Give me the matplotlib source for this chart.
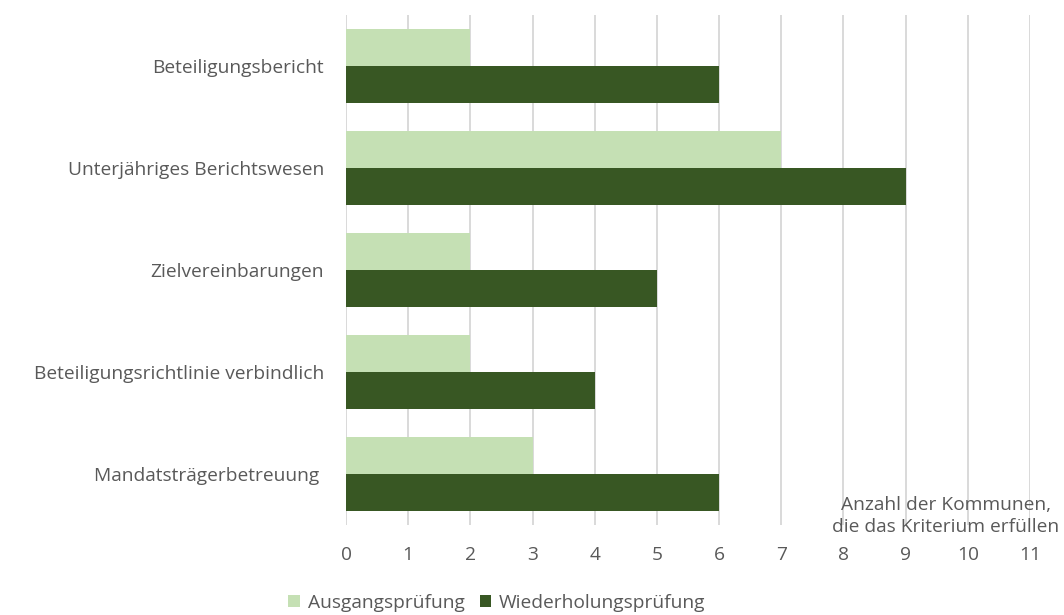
import matplotlib.pyplot as plt
import numpy as np

plt.rcParams['font.family'] = ['Open Sans', 'DejaVu Sans']

# Kriterien und Anzahl der Kommunen je Prüfung
kriterien = [
    "Beteiligungsbericht",
    "Unterjähriges Berichtswesen",
    "Zielvereinbarungen",
    "Beteiligungsrichtlinie verbindlich",
    "Mandatsträgerbetreuung ",
]
ausgang = [2, 7, 2, 2, 3]
wiederholung = [6, 9, 5, 4, 6]
x_ticks = list(range(0, 12))

hell = "#c5e0b4"
dunkel = "#385723"
grau = "#595959"
fs = 13.8

fig = plt.figure(figsize=(10.64, 6.15), dpi=100)
ax = fig.add_axes([346 / 1064, 1 - 525 / 615, (1030 - 346) / 1064, 510 / 615])

y = np.arange(len(kriterien))
h = 0.363
ax.barh(y - h / 2, ausgang, height=h, color=hell, label="Ausgangsprüfung", zorder=3)
ax.barh(y + h / 2, wiederholung, height=h, color=dunkel, label="Wiederholungsprüfung", zorder=3)

ax.set_xlim(0, 11)
ax.set_ylim(len(kriterien) - 0.5, -0.5)
ax.set_xticks(x_ticks)
ax.set_yticks(y)
ax.set_yticklabels(kriterien)
ax.grid(axis="x", color="#d9d9d9", linewidth=1.4, zorder=0)
ax.tick_params(axis="both", length=0, labelsize=fs, labelcolor=grau)
ax.tick_params(axis="x", pad=15)
ax.tick_params(axis="y", pad=16)
for s in ax.spines.values():
    s.set_visible(False)

fig.text(946 / 1064, 1 - 516 / 615, "Anzahl der Kommunen,\ndie das Kriterium erfüllen",
         ha="center", va="center", fontsize=fs, color=grau, linespacing=1.35)

fig.legend(loc="center", bbox_to_anchor=(497 / 1064, 1 - 603 / 615), ncol=2, frameon=False,
           fontsize=fs, labelcolor=grau, handlelength=0.6, handleheight=0.6,
           handletextpad=0.4, columnspacing=0.8)

fig.savefig("out.png", dpi=100)
